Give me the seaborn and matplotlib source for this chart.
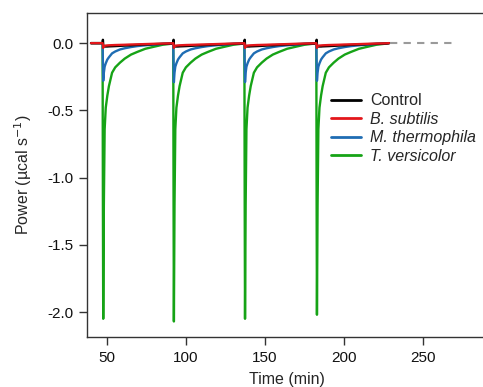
import numpy as np
import pandas as pd
import matplotlib
matplotlib.use("Agg")
import matplotlib.pyplot as plt
import seaborn as sns
from matplotlib.lines import Line2D

# ---- data ----
series_names = ["Control", "B. subtilis", "M. thermophila", "T. versicolor"]
colors = {"Control": "#000000", "B. subtilis": "#e3161b",
          "M. thermophila": "#1f6db3", "T. versicolor": "#16a316"}

injection_times = [47.3, 92.0, 137.0, 182.5]
start_time = 40.0
end_time = 228.5

# minutes after each injection
offsets = [0.0, 0.2, 0.4, 0.8, 1.3, 2, 3, 4, 6, 8, 11, 14, 18, 22, 27, 32, 38, 44.5]

green_minima = [-2.05, -2.07, -2.05, -2.02]
green_decay = [0.0, -1.2, None, -1.2, -0.64, -0.48, -0.39, -0.32, -0.22, -0.18,
               -0.145, -0.115, -0.085, -0.065, -0.042, -0.028, -0.012, -0.003]
blue_minima = [-0.28, -0.29, -0.29, -0.28]
blue_decay = [0.0, -0.15, None, -0.22, -0.175, -0.15, -0.122, -0.105, -0.076, -0.062,
              -0.047, -0.038, -0.029, -0.022, -0.016, -0.011, -0.006, -0.002]
red_decay = [0.0, -0.015, -0.035, -0.022, -0.02, -0.018, -0.017, -0.016, -0.015, -0.014,
             -0.013, -0.012, -0.01, -0.009, -0.007, -0.005, -0.003, -0.001]
black_decay = [0.0, 0.025, -0.01, -0.025, -0.025, -0.025, -0.025, -0.024, -0.023, -0.022,
               -0.02, -0.018, -0.016, -0.013, -0.01, -0.008, -0.005, -0.003]

dash_time = [229.0, 270.0]
dash_power = [0.0, 0.0]

x_ticks = [50, 100, 150, 200, 250]
y_ticks = [0.0, -0.5, -1.0, -1.5, -2.0]


def build(decay, minima=None):
    t = [start_time]
    p = [0.0]
    for k, t0 in enumerate(injection_times):
        for off, v in zip(offsets, decay):
            if v is None:
                v = minima[k]
            t.append(t0 + off)
            p.append(v)
    t.append(end_time)
    p.append(0.0)
    return t, p


rows = []
for name, dec, mins in [("T. versicolor", green_decay, green_minima),
                        ("M. thermophila", blue_decay, blue_minima),
                        ("Control", black_decay, None),
                        ("B. subtilis", red_decay, None)]:
    t, p = build(dec, mins)
    for a, b in zip(t, p):
        rows.append({"time": a, "power": b, "series": name})
df = pd.DataFrame(rows)

sns.set_style("ticks")
plt.rcParams["font.family"] = ["Liberation Sans", "DejaVu Sans"]
plt.rcParams["axes.unicode_minus"] = False

TICK_FS = 11
LAB_FS = 11.5
LEG_FS = 11.5

fig = plt.figure(figsize=(4.83, 3.87), dpi=100)
ax = fig.add_axes([0.180, 0.129, 0.83, 0.837])

for name in ["T. versicolor", "M. thermophila", "Control", "B. subtilis"]:
    sub = df[df["series"] == name]
    sns.lineplot(data=sub, x="time", y="power", color=colors[name], lw=1.7,
                 sort=False, estimator=None, ax=ax, legend=False)

sns.lineplot(x=dash_time, y=dash_power, color="#9a9a9a", lw=1.5, ax=ax,
             linestyle=(0, (3.5, 3)), legend=False)

ax.set_xlim(37.4, 291)
ax.set_ylim(-2.186, 0.223)
ax.set_xticks(x_ticks)
ax.set_yticks(y_ticks)
ax.set_yticklabels([f"{v:.1f}" for v in y_ticks])
ax.set_xticklabels([str(v) for v in x_ticks])

for s in ax.spines.values():
    s.set_color("#333333")
    s.set_linewidth(1.0)
ax.tick_params(axis="both", direction="out", length=5.8, width=1.0,
               color="#333333", labelsize=TICK_FS, labelcolor="#111111")
ax.tick_params(axis="x", pad=4.5)
ax.tick_params(axis="y", pad=3.6)

ax.set_xlabel("Time (min)", fontsize=LAB_FS, labelpad=4.5)
ax.set_ylabel("Power (µcal s$^{-1}$)", fontsize=LAB_FS, labelpad=10)

handles = [Line2D([0], [0], color=colors[n], lw=2.0) for n in series_names]
leg = ax.legend(handles, series_names, loc="upper left",
                bbox_to_anchor=(0.594, 0.772), frameon=False, fontsize=LEG_FS,
                handlelength=1.85, handletextpad=0.55, labelspacing=0.22,
                borderaxespad=0)
for txt in leg.get_texts()[1:]:
    txt.set_style("italic")

fig.savefig("out.png", dpi=100)
